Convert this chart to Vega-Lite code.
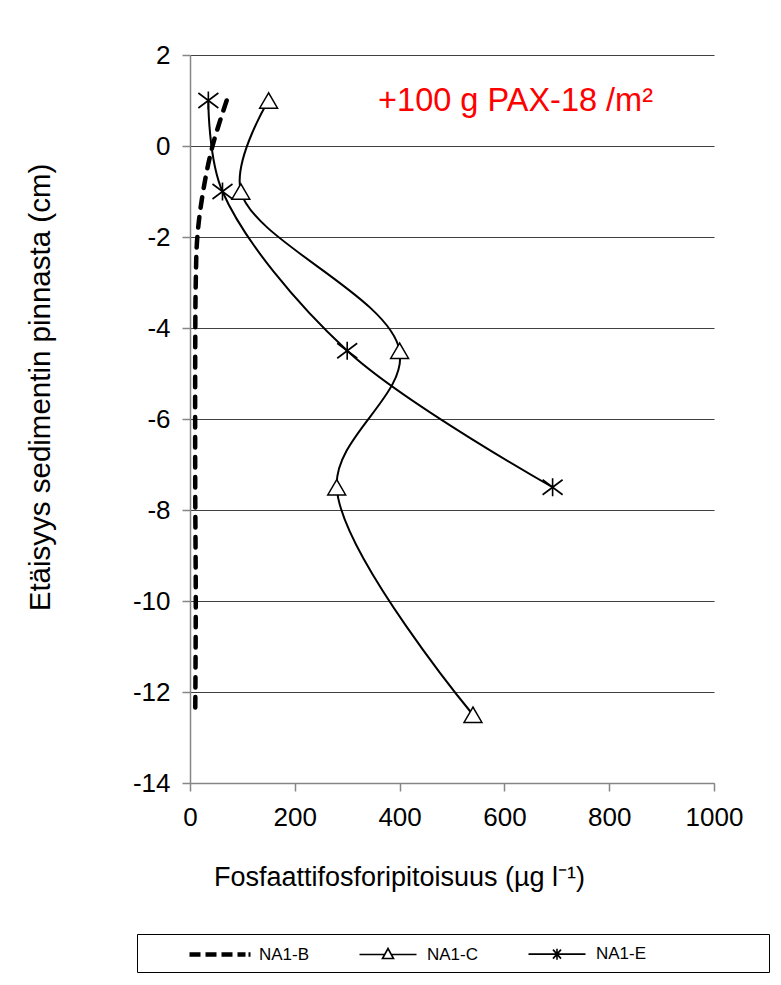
{
  "$schema": "https://vega.github.io/schema/vega-lite/v6.json",
  "width": 524,
  "height": 728,
  "autosize": {"type": "none"},
  "padding": {"left": 190, "top": 55, "right": 67, "bottom": 202},
  "background": "white",
  "config": {
    "view": {"stroke": null},
    "font": "Liberation Sans"
  },
  "datasets": {
    "lines": [
      {"series": "NA1-B", "idx": 1, "depth": 1, "value": 70},
      {"series": "NA1-B", "idx": 2, "depth": 0, "value": 43},
      {"series": "NA1-B", "idx": 3, "depth": -1, "value": 25},
      {"series": "NA1-B", "idx": 4, "depth": -2, "value": 14},
      {"series": "NA1-B", "idx": 5, "depth": -3, "value": 11},
      {"series": "NA1-B", "idx": 6, "depth": -4.5, "value": 10},
      {"series": "NA1-B", "idx": 7, "depth": -7.5, "value": 10},
      {"series": "NA1-B", "idx": 8, "depth": -10, "value": 11},
      {"series": "NA1-B", "idx": 9, "depth": -12.5, "value": 10},
      {"series": "NA1-C", "idx": 1, "depth": 1, "value": 150},
      {"series": "NA1-C", "idx": 2, "depth": -1, "value": 97},
      {"series": "NA1-C", "idx": 3, "depth": -4.5, "value": 400},
      {"series": "NA1-C", "idx": 4, "depth": -7.5, "value": 280},
      {"series": "NA1-C", "idx": 5, "depth": -12.5, "value": 540},
      {"series": "NA1-E", "idx": 1, "depth": 1, "value": 35},
      {"series": "NA1-E", "idx": 2, "depth": -1, "value": 62},
      {"series": "NA1-E", "idx": 3, "depth": -4.5, "value": 300},
      {"series": "NA1-E", "idx": 4, "depth": -7.5, "value": 692}
    ]
  },
  "layer": [
    {
      "data": {"name": "lines"},
      "transform": [{"filter": "datum.series === 'NA1-B'"}],
      "mark": {"type": "line", "interpolate": "catmull-rom", "color": "black", "strokeCap": "round", "strokeWidth": 4.5, "strokeDash": [10.5, 9.5]},
      "encoding": {
        "x": {
          "field": "value", "type": "quantitative",
          "scale": {"domain": [0, 1000], "nice": false, "zero": false},
          "axis": {
            "title": "Fosfaattifosforipitoisuus (µg l⁻¹)",
            "values": [0, 200, 400, 600, 800, 1000],
            "labelExpr": "toString(datum.value)",
            "labelFlush": false,
            "grid": false,
            "domainColor": "#868686", "domainWidth": 1.5,
            "tickColor": "#868686", "tickWidth": 1.5, "tickSize": 8,
            "labelFontSize": 26, "labelColor": "black", "labelPadding": 13,
            "labelFont": "Liberation Sans",
            "titleFontSize": 27, "titleFontWeight": "normal", "titleColor": "black",
            "titleFont": "Liberation Sans",
            "titleX": 209, "titleY": 94, "titleBaseline": "middle", "titleAnchor": "middle", "titleAlign": "center"
          }
        },
        "y": {
          "field": "depth", "type": "quantitative",
          "scale": {"domain": [-14, 2], "nice": false, "zero": false},
          "axis": {
            "title": "Etäisyys sedimentin pinnasta (cm)",
            "values": [-14, -12, -10, -8, -6, -4, -2, 0, 2],
            "labelExpr": "toString(datum.value)",
            "labelFlush": false,
            "grid": true, "gridColor": "#404040", "gridWidth": 1,
            "domainColor": "#868686", "domainWidth": 1.5,
            "tickColor": "#868686", "tickWidth": 1.5, "tickSize": 8,
            "labelFontSize": 26, "labelColor": "black", "labelPadding": 12,
            "labelFont": "Liberation Sans",
            "titleFontSize": 29.5, "titleFontWeight": "normal", "titleColor": "black",
            "titleFont": "Liberation Sans",
            "titleX": -150, "titleY": 332, "titleAngle": -90, "titleBaseline": "middle", "titleAlign": "center"
          }
        },
        "order": {"field": "idx", "type": "quantitative"}
      }
    },
    {
      "data": {"name": "lines"},
      "transform": [{"filter": "datum.series !== 'NA1-B'"}],
      "mark": {"type": "line", "interpolate": "catmull-rom", "color": "black", "strokeWidth": 2},
      "encoding": {
        "x": {"field": "value", "type": "quantitative"},
        "y": {"field": "depth", "type": "quantitative"},
        "detail": {"field": "series", "type": "nominal"},
        "order": {"field": "idx", "type": "quantitative"}
      }
    },
    {
      "data": {"name": "lines"},
      "transform": [{"filter": "datum.idx === 1"}],
      "mark": {"type": "point", "filled": false, "stroke": "black", "strokeWidth": 1.6, "size": 400, "opacity": 0},
      "encoding": {
        "x": {"field": "value", "type": "quantitative"},
        "y": {"field": "depth", "type": "quantitative"},
        "shape": {
          "field": "series", "type": "nominal",
          "scale": {
            "domain": ["NA1-B", "NA1-C", "NA1-E"],
            "range": [
              "M-3.05,-0.15H-1.95M-3.05,-0.05H-1.95M-3.05,0.05H-1.95M-3.05,0.15H-1.95M-1.45,-0.15H-0.35M-1.45,-0.05H-0.35M-1.45,0.05H-0.35M-1.45,0.15H-0.35M0.15,-0.15H1.25M0.15,-0.05H1.25M0.15,0.05H1.25M0.15,0.15H1.25M1.75,-0.15H2.55M1.75,-0.05H2.55M1.75,0.05H2.55M1.75,0.15H2.55M2.85,-0.15H3.05M2.85,-0.05H3.05M2.85,0.05H3.05M2.85,0.15H3.05",
              "M-2.85,0H-0.33M0.33,0H2.85M-0.55,0.4L0,-0.6L0.55,0.4Z",
              "M-2.85,0H2.85M0,-0.55V0.55M-0.4,-0.45L0.4,0.45M-0.4,0.45L0.4,-0.45"
            ]
          },
          "legend": {
            "orient": "none",
            "legendX": -53,
            "legendY": 879,
            "direction": "horizontal",
            "title": " ",
            "titleOrient": "left",
            "titlePadding": 37,
            "strokeColor": "black",
            "padding": 9,
            "symbolSize": 400,
            "symbolOffset": 26,
            "symbolOpacity": 1,
            "symbolStrokeColor": "black",
            "symbolStrokeWidth": 1.6,
            "symbolFillColor": "transparent",
            "labelOffset": 28,
            "labelFontSize": 17,
            "labelFont": "Liberation Sans",
            "labelColor": "black",
            "labelLimit": 400,
            "columnPadding": 41,
            "labelExpr": "datum.label === 'NA1-E' ? datum.label + '\u00a0\u00a0\u00a0\u00a0\u00a0\u00a0\u00a0\u00a0\u00a0\u00a0\u00a0\u00a0\u00a0\u00a0\u00a0\u00a0\u00a0\u00a0\u00a0\u00a0\u00a0\u00a0\u00a0\u00a0\u200b' : datum.label"
          }
        }
      }
    },
    {
      "data": {"name": "lines"},
      "transform": [{"filter": "datum.series === 'NA1-C'"}],
      "mark": {"type": "point", "shape": "triangle-up", "size": 320, "filled": true, "fill": "white", "stroke": "black", "strokeWidth": 1.5, "opacity": 1},
      "encoding": {
        "x": {"field": "value", "type": "quantitative"},
        "y": {"field": "depth", "type": "quantitative"}
      }
    },
    {
      "data": {"name": "lines"},
      "transform": [{"filter": "datum.series === 'NA1-E'"}],
      "mark": {"type": "point", "shape": "M0,-0.9V0.9M-1,-0.75L1,0.75M-1,0.75L1,-0.75", "size": 400, "filled": false, "stroke": "black", "strokeWidth": 1.6, "opacity": 1},
      "encoding": {
        "x": {"field": "value", "type": "quantitative"},
        "y": {"field": "depth", "type": "quantitative"}
      }
    },
    {
      "data": {"values": [{"x": 359, "y": 1, "label": "+100 g PAX-18 /m²"}]},
      "mark": {"type": "text", "color": "#ff0000", "align": "left", "baseline": "middle", "fontSize": 32.5, "font": "Liberation Sans"},
      "encoding": {
        "x": {"field": "x", "type": "quantitative"},
        "y": {"field": "y", "type": "quantitative"},
        "text": {"field": "label"}
      }
    }
  ]
}
